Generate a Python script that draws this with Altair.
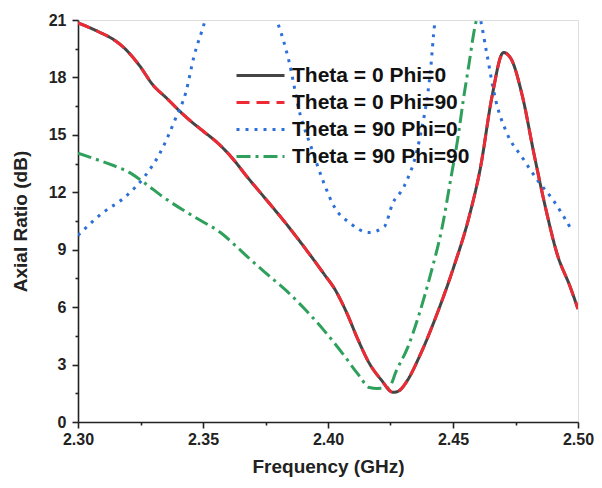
import altair as alt
import pandas as pd

# ---- data ----
S1 = "Theta = 0 Phi=0"
S2 = "Theta = 0 Phi=90"
S3 = "Theta = 90 Phi=0"
S4 = "Theta = 90 Phi=90"
series_names = [S1, S2, S3, S4]

f_main = [2.300, 2.308, 2.3151, 2.3188, 2.3247, 2.330, 2.3356, 2.3402, 2.3448, 2.350,
          2.3561, 2.3616, 2.3677, 2.3754, 2.383, 2.3907, 2.3983, 2.4029, 2.4075,
          2.412, 2.4166, 2.4213, 2.426, 2.428, 2.4319, 2.4365, 2.4442, 2.4503,
          2.4564, 2.461, 2.4656, 2.4702, 2.4731, 2.4778, 2.4824, 2.487, 2.4916,
          2.4969, 2.500]
ar_main = [20.85, 20.4, 19.9, 19.5, 18.6, 17.6, 16.9, 16.3, 15.75, 15.2,
           14.55, 13.8, 12.8, 11.6, 10.4, 9.1, 7.75, 6.9, 5.7,
           4.3, 3.05, 2.2, 1.55, 1.6, 2.2, 3.4, 5.85, 8.1,
           10.7, 13.3, 17.0, 19.3, 19.0, 17.0, 14.0, 11.2, 8.8,
           7.05, 5.9]

f_t90p0 = [2.300, 2.3096, 2.3188, 2.3265, 2.3326, 2.3387, 2.3433, 2.3463, 2.350,
           2.3525, 2.3775, 2.380, 2.3843, 2.3888, 2.3933, 2.398, 2.4027, 2.4087,
           2.4163, 2.4225, 2.4258, 2.4304, 2.4365, 2.4411, 2.4426, 2.4445,
           2.4595, 2.461, 2.4633, 2.4671, 2.4717, 2.4778, 2.484, 2.490, 2.4976]
ar_t90p0 = [9.75, 10.9, 11.75, 12.8, 14.0, 15.75, 17.3, 19.05, 20.6,
            21.6, 21.6, 20.8, 18.9, 16.1, 14.35, 12.6, 11.2, 10.4,
            9.9, 10.2, 11.4, 12.3, 14.7, 18.5, 20.7, 21.6,
            21.6, 21.0, 19.4, 16.8, 15.05, 13.8, 12.6, 11.6, 10.0]

f_t90p90 = [2.300, 2.3066, 2.3142, 2.3203, 2.3265, 2.3341, 2.3417, 2.3494, 2.357,
            2.3631, 2.3693, 2.3754, 2.383, 2.3907, 2.3983, 2.406, 2.412, 2.4166,
            2.4196, 2.4243, 2.4274, 2.4319, 2.4365, 2.4411, 2.4457, 2.4495,
            2.4518, 2.4541, 2.4564, 2.4587, 2.4600]
ar_t90p90 = [14.05, 13.75, 13.4, 13.05, 12.5, 11.75, 11.1, 10.5, 9.9,
             9.2, 8.45, 7.75, 6.9, 5.9, 4.8, 3.55, 2.5, 1.8,
             1.75, 1.8, 2.7, 3.9, 5.65, 7.75, 10.2, 13.0,
             14.7, 16.8, 18.7, 20.6, 21.3]

series_colors = ["#454545", "#ee2b34", "#2d6fd8", "#2ea05c"]
series_dashes = [[1, 0], [13, 7], [3, 6], [14, 5, 3, 5]]

y_tick_values = [0, 1.5, 3, 4.5, 6, 7.5, 9, 10.5, 12, 13.5, 15, 16.5, 18, 19.5, 21]
x_tick_values = [2.30, 2.325, 2.35, 2.375, 2.40, 2.425, 2.45, 2.475, 2.50]

# ---- table ----
rows = []
for name, fs, ys in [(S1, f_main, ar_main), (S2, f_main, ar_main),
                     (S3, f_t90p0, ar_t90p0), (S4, f_t90p90, ar_t90p90)]:
    for i, (f, y) in enumerate(zip(fs, ys)):
        rows.append({"series": name, "freq": f, "ar": y, "idx": i})
df = pd.DataFrame(rows)

FONT = "Liberation Sans"

x_enc = alt.X(
    "freq:Q",
    scale=alt.Scale(domain=[2.3, 2.5], nice=False, zero=False),
    axis=alt.Axis(
        title="Frequency (GHz)",
        values=x_tick_values,
        labelExpr="abs(round(datum.value*1000) % 50) === 0 ? format(datum.value, '.2f') : ''",
        tickSize={"condition": {"test": "abs(round(datum.value*1000) % 50) !== 0", "value": 3}, "value": 6},
        grid=False,
        domainColor="#222", domainWidth=1.6, tickColor="#222", tickWidth=1.6,
        labelFont=FONT, labelFontSize=16, labelFontWeight="bold", labelColor="#222",
        labelPadding=3, labelFlush=False, labelOverlap=False,
        titleFont=FONT, titleFontSize=19, titleFontWeight="bold", titleColor="#222",
        titlePadding=10,
    ),
)
y_enc = alt.Y(
    "ar:Q",
    scale=alt.Scale(domain=[0, 21], nice=False),
    axis=alt.Axis(
        title="Axial Ratio (dB)",
        values=y_tick_values,
        labelExpr="datum.value % 3 === 0 ? format(datum.value, 'd') : ''",
        tickSize={"condition": {"test": "datum.value % 3 !== 0", "value": 3}, "value": 6},
        grid=False,
        domainColor="#222", domainWidth=1.6, tickColor="#222", tickWidth=1.6,
        labelFont=FONT, labelFontSize=16, labelFontWeight="bold", labelColor="#222",
        labelPadding=6, labelOverlap=False,
        titleFont=FONT, titleFontSize=19, titleFontWeight="bold", titleColor="#222",
        titlePadding=18,
    ),
)
color_enc = alt.Color(
    "series:N",
    scale=alt.Scale(domain=series_names, range=series_colors),
    legend=alt.Legend(
        title=None, orient="none", legendX=157, legendY=44,
        symbolType="stroke", symbolSize=2304, symbolStrokeWidth=3,
        labelFont=FONT, labelFontSize=21, labelFontWeight="bold", labelColor="#111",
        clipHeight=23, rowPadding=4, labelOffset=6, labelLimit=300,
    ),
)
dash_enc = alt.StrokeDash(
    "series:N",
    scale=alt.Scale(domain=series_names, range=series_dashes),
    legend=None,
)

base = alt.Chart(df).mark_line(strokeWidth=3, clip=True, interpolate="monotone").encode(
    x=x_enc, y=y_enc, color=color_enc, strokeDash=dash_enc, order="idx:Q"
)

chart = alt.layer(
    base.transform_filter(alt.datum.series != S2),
    base.transform_filter(alt.datum.series == S2),
).properties(
    width=500, height=402,
    autosize=alt.AutoSizeParams(type="none"),
    padding={"left": 70, "top": 12, "right": 16, "bottom": 58},
).configure_view(stroke=None).configure(background="white")

chart.save("out.html", embed_options={"renderer": "svg", "actions": False})
